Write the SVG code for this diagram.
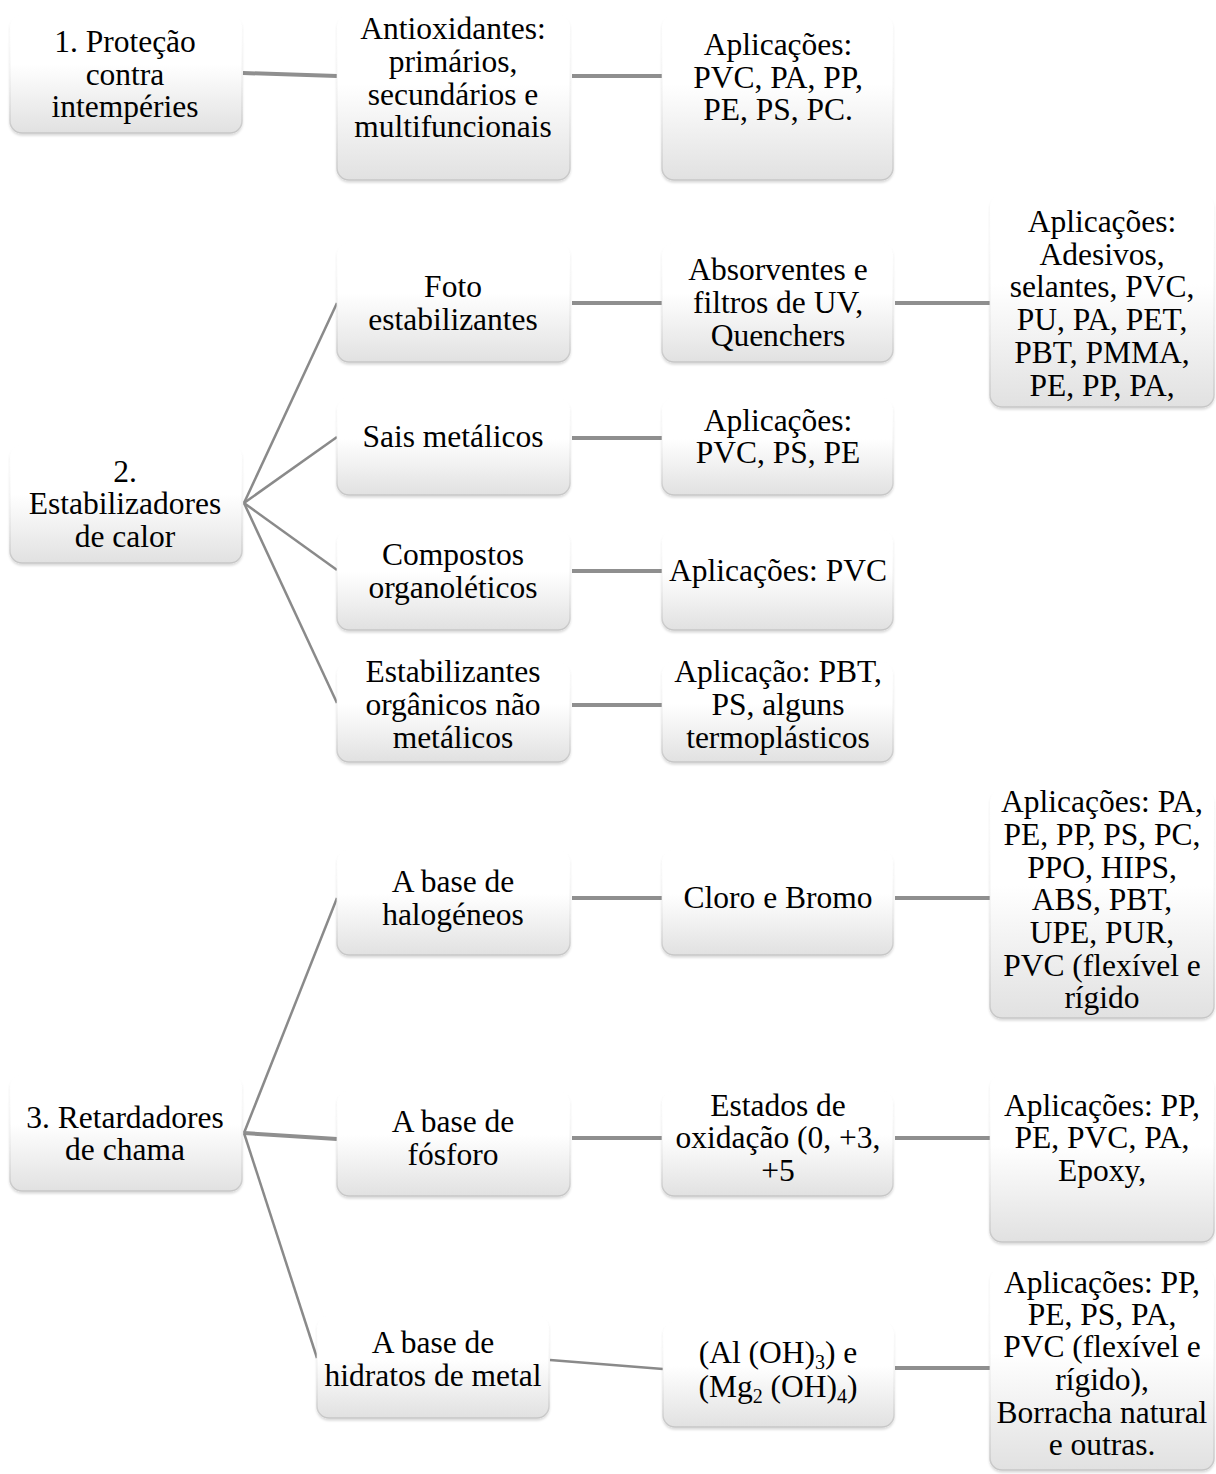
<svg xmlns="http://www.w3.org/2000/svg" width="1216" height="1474" viewBox="0 0 1216 1474">
<defs>
<linearGradient id="gf" x1="0" y1="0" x2="0" y2="1">
<stop offset="0" stop-color="#ffffff"/>
<stop offset="0.42" stop-color="#ffffff"/>
<stop offset="1" stop-color="#e1e1e1"/>
</linearGradient>
<linearGradient id="gs" x1="0" y1="0" x2="0" y2="1">
<stop offset="0" stop-color="#ffffff" stop-opacity="0"/>
<stop offset="0.5" stop-color="#e8e8e8" stop-opacity="0.5"/>
<stop offset="1" stop-color="#c6c6c6"/>
</linearGradient>
<filter id="sh" x="-5%" y="-5%" width="110%" height="115%">
<feDropShadow dx="0" dy="2" stdDeviation="1.2" flood-color="#000" flood-opacity="0.14"/>
</filter>
</defs>
<style>
.box{fill:url(#gf);stroke:url(#gs);stroke-width:1.5;filter:url(#sh)}
text{font-family:"Liberation Serif","Times New Roman",serif;font-size:31.5px;fill:#000;text-anchor:middle}
.sub{font-size:20px}
.c{stroke:#8a8a8a;stroke-width:2.5;fill:none}
.h{stroke:#8f8f8f;stroke-width:4;fill:none}
</style>
<rect width="1216" height="1474" fill="#fff"/>

<g id="connectors">
<line class="h" x1="243" y1="73" x2="337" y2="76"/>
<line class="h" x1="572" y1="76" x2="662" y2="76"/>
<line class="c" x1="244" y1="503" x2="337" y2="303"/>
<line class="c" x1="244" y1="503" x2="337" y2="437"/>
<line class="c" x1="244" y1="503" x2="337" y2="570"/>
<line class="c" x1="244" y1="503" x2="337" y2="703"/>
<line class="h" x1="572" y1="303" x2="662" y2="303"/>
<line class="h" x1="895" y1="303" x2="990" y2="303"/>
<line class="h" x1="572" y1="438" x2="662" y2="438"/>
<line class="h" x1="572" y1="571" x2="662" y2="571"/>
<line class="h" x1="572" y1="705" x2="662" y2="705"/>
<line class="c" x1="244" y1="1133" x2="337" y2="898"/>
<line class="h" x1="244" y1="1133" x2="337" y2="1139"/>
<line class="c" x1="244" y1="1133" x2="317" y2="1358"/>
<line class="h" x1="572" y1="898" x2="662" y2="898"/>
<line class="h" x1="895" y1="898" x2="990" y2="898"/>
<line class="h" x1="572" y1="1138" x2="662" y2="1138"/>
<line class="h" x1="895" y1="1138" x2="990" y2="1138"/>
<line class="c" x1="550" y1="1360" x2="663" y2="1369"/>
<line class="h" x1="895" y1="1368" x2="990" y2="1368"/>
</g>

<g id="n1">
<rect class="box" x="10" y="15" width="232" height="118" rx="12"/>
<text x="125" y="52">1. Proteção</text>
<text x="125" y="84.5">contra</text>
<text x="125" y="117">intempéries</text>
</g>
<g id="n1a">
<rect class="box" x="337" y="15" width="233" height="165" rx="12"/>
<text x="453" y="39">Antioxidantes:</text>
<text x="453" y="72">primários,</text>
<text x="453" y="104.5">secundários e</text>
<text x="453" y="137">multifuncionais</text>
</g>
<g id="n1b">
<rect class="box" x="662" y="15" width="231" height="165" rx="12"/>
<text x="778" y="55">Aplicações:</text>
<text x="778" y="88">PVC, PA, PP,</text>
<text x="778" y="120">PE, PS, PC.</text>
</g>

<g id="n2">
<rect class="box" x="10" y="445" width="232" height="118" rx="12"/>
<text x="125" y="482">2.</text>
<text x="125" y="514">Estabilizadores</text>
<text x="125" y="547">de calor</text>
</g>
<g id="n2a">
<rect class="box" x="337" y="243" width="233" height="119" rx="12"/>
<text x="453" y="297">Foto</text>
<text x="453" y="330">estabilizantes</text>
</g>
<g id="n2a1">
<rect class="box" x="662" y="243" width="231" height="119" rx="12"/>
<text x="778" y="280">Absorventes e</text>
<text x="778" y="313">filtros de UV,</text>
<text x="778" y="346">Quenchers</text>
</g>
<g id="n2a2">
<rect class="box" x="990" y="195" width="224" height="212" rx="12"/>
<text x="1102" y="232">Aplicações:</text>
<text x="1102" y="264.5">Adesivos,</text>
<text x="1102" y="297">selantes, PVC,</text>
<text x="1102" y="330">PU, PA, PET,</text>
<text x="1102" y="363">PBT, PMMA,</text>
<text x="1102" y="396">PE, PP, PA,</text>
</g>
<g id="n2b">
<rect class="box" x="337" y="398" width="233" height="97" rx="12"/>
<text x="453" y="447">Sais metálicos</text>
</g>
<g id="n2b1">
<rect class="box" x="662" y="398" width="231" height="97" rx="12"/>
<text x="778" y="431">Aplicações:</text>
<text x="778" y="463">PVC, PS, PE</text>
</g>
<g id="n2c">
<rect class="box" x="337" y="530" width="233" height="100" rx="12"/>
<text x="453" y="565">Compostos</text>
<text x="453" y="598">organoléticos</text>
</g>
<g id="n2c1">
<rect class="box" x="662" y="530" width="231" height="100" rx="12"/>
<text x="778" y="581">Aplicações: PVC</text>
</g>
<g id="n2d">
<rect class="box" x="337" y="662" width="233" height="100" rx="12"/>
<text x="453" y="682">Estabilizantes</text>
<text x="453" y="715">orgânicos não</text>
<text x="453" y="748">metálicos</text>
</g>
<g id="n2d1">
<rect class="box" x="662" y="662" width="231" height="100" rx="12"/>
<text x="778" y="682">Aplicação: PBT,</text>
<text x="778" y="715">PS, alguns</text>
<text x="778" y="748">termoplásticos</text>
</g>

<g id="n3">
<rect class="box" x="10" y="1075" width="232" height="116" rx="12"/>
<text x="125" y="1128">3. Retardadores</text>
<text x="125" y="1160">de chama</text>
</g>
<g id="n3a">
<rect class="box" x="337" y="850" width="233" height="105" rx="12"/>
<text x="453" y="892">A base de</text>
<text x="453" y="925">halogéneos</text>
</g>
<g id="n3a1">
<rect class="box" x="662" y="850" width="231" height="105" rx="12"/>
<text x="778" y="908">Cloro e Bromo</text>
</g>
<g id="n3a2">
<rect class="box" x="990" y="790" width="224" height="228" rx="12"/>
<text x="1102" y="812">Aplicações: PA,</text>
<text x="1102" y="845">PE, PP, PS, PC,</text>
<text x="1102" y="878">PPO, HIPS,</text>
<text x="1102" y="910">ABS, PBT,</text>
<text x="1102" y="943">UPE, PUR,</text>
<text x="1102" y="976">PVC (flexível e</text>
<text x="1102" y="1008">rígido</text>
</g>
<g id="n3b">
<rect class="box" x="337" y="1091" width="233" height="105" rx="12"/>
<text x="453" y="1132">A base de</text>
<text x="453" y="1165">fósforo</text>
</g>
<g id="n3b1">
<rect class="box" x="662" y="1091" width="231" height="105" rx="12"/>
<text x="778" y="1116">Estados de</text>
<text x="778" y="1148">oxidação (0, +3,</text>
<text x="778" y="1181">+5</text>
</g>
<g id="n3b2">
<rect class="box" x="990" y="1075" width="224" height="167" rx="12"/>
<text x="1102" y="1116">Aplicações: PP,</text>
<text x="1102" y="1148">PE, PVC, PA,</text>
<text x="1102" y="1181">Epoxy,</text>
</g>
<g id="n3c">
<rect class="box" x="317" y="1316" width="232" height="102" rx="12"/>
<text x="433" y="1353">A base de</text>
<text x="433" y="1386">hidratos de metal</text>
</g>
<g id="n3c1">
<rect class="box" x="663" y="1322" width="231" height="105" rx="12"/>
<text x="778" y="1363">(Al (OH)<tspan class="sub" dy="6">3</tspan><tspan dy="-6">) e</tspan></text>
<text x="778" y="1397">(Mg<tspan class="sub" dy="6">2</tspan><tspan dy="-6"> (OH)</tspan><tspan class="sub" dy="6">4</tspan><tspan dy="-6">)</tspan></text>
</g>
<g id="n3c2">
<rect class="box" x="990" y="1268" width="224" height="202" rx="12"/>
<text x="1102" y="1293">Aplicações: PP,</text>
<text x="1102" y="1325">PE, PS, PA,</text>
<text x="1102" y="1357">PVC (flexível e</text>
<text x="1102" y="1390">rígido),</text>
<text x="1102" y="1423">Borracha natural</text>
<text x="1102" y="1455">e outras.</text>
</g>
</svg>
